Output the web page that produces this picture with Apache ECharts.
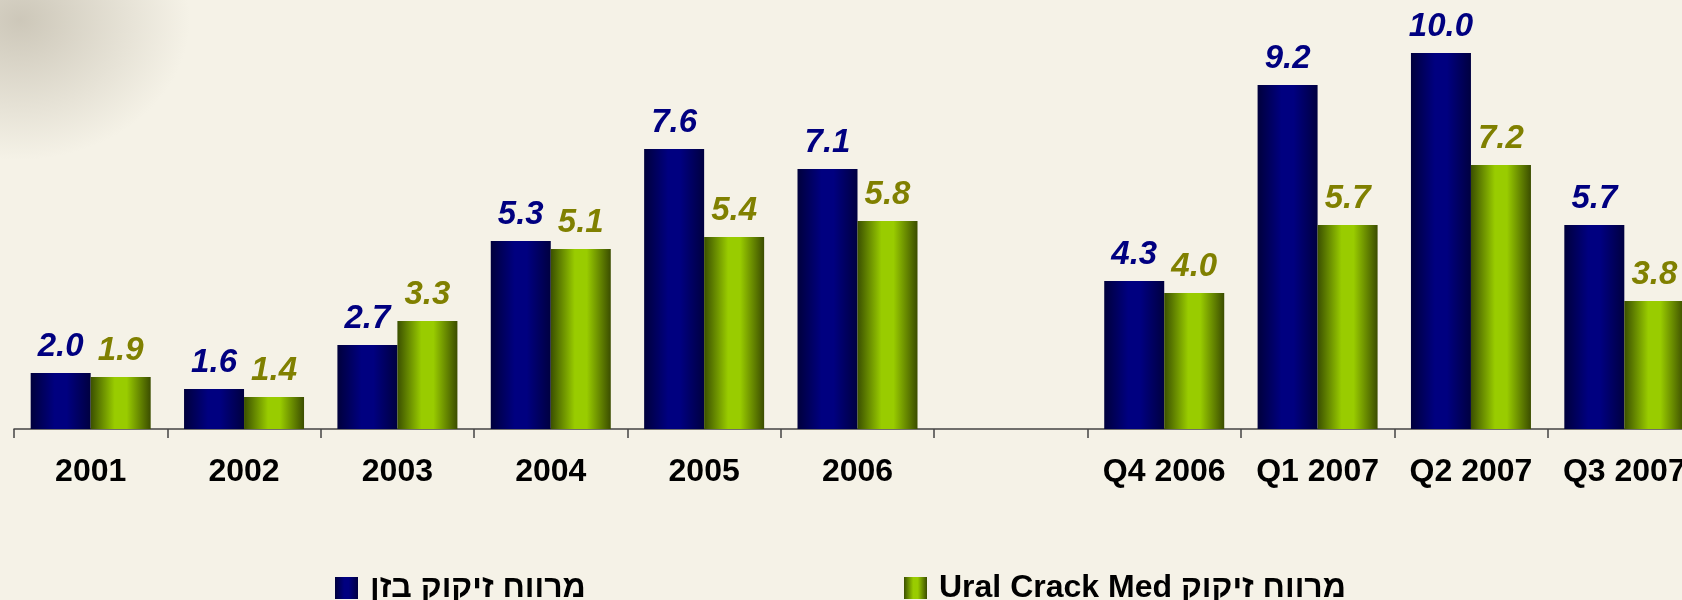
<!DOCTYPE html>
<html>
<head>
<meta charset="utf-8">
<script src="https://cdn.jsdelivr.net/npm/echarts@6/dist/echarts.min.js"></script>
<style>
  html, body { margin: 0; padding: 0; }
  body {
    width: 1682px; height: 600px; overflow: hidden;
    background-color: #f5f2e7;
    background-image: radial-gradient(ellipse 170px 140px at 20px 20px, rgba(165,157,140,0.5), rgba(245,242,231,0) 100%);
  }
  /* the chart is cut off on the right like in the slide */
  #chart { width: 1701px; height: 600px; }
</style>
</head>
<body>
<div id="chart"></div>
<script>
// categories (the empty one is the gap between years and quarters)
const categories = ['2001', '2002', '2003', '2004', '2005', '2006', '', 'Q4 2006', 'Q1 2007', 'Q2 2007', 'Q3 2007'];
const bazanName = 'מרווח זיקוק בזן';
const uralName = '\u202Bמרווח זיקוק Ural Crack Med\u202C';
const bazanValues = [2.0, 1.6, 2.7, 5.3, 7.6, 7.1, null, 4.3, 9.2, 10.0, 5.7];
const uralValues = [1.9, 1.4, 3.3, 5.1, 5.4, 5.8, null, 4.0, 5.7, 7.2, 3.8];

const font = "'Liberation Sans', Arial, sans-serif";

// horizontal shading like the cylinder-ish excel bars
function shade(edgeL, mid, edgeR) {
  return new echarts.graphic.LinearGradient(0, 0, 1, 0, [
    { offset: 0, color: edgeL },
    { offset: 0.4, color: mid },
    { offset: 0.6, color: mid },
    { offset: 1, color: edgeR }
  ]);
}

function labelOf(color) {
  return {
    show: true,
    position: 'top',
    distance: 10,
    color: color,
    fontFamily: font,
    fontSize: 33,
    fontWeight: 'bold',
    fontStyle: 'italic',
    formatter: p => p.value == null ? '' : Number(p.value).toFixed(1)
  };
}

const legendText = {
  color: '#000',
  fontFamily: font,
  fontSize: 32,
  fontWeight: 'bold',
  padding: [0, 0, 0, 7]
};

let option = {
  animation: false,
  backgroundColor: 'transparent',
  legend: [
    { data: [bazanName], left: 330, top: 567, itemWidth: 23, itemHeight: 22, icon: 'rect', textStyle: legendText },
    { data: [uralName], left: 899, top: 567, itemWidth: 23, itemHeight: 22, icon: 'rect', textStyle: legendText }
  ],
  grid: {
    left: 14,
    right: 0,
    top: 53,
    height: 376
  },
  xAxis: {
    type: 'category',
    data: categories,
    axisLine: { lineStyle: { color: '#444', width: 1.5 } },
    axisTick: { show: true, length: 9, lineStyle: { color: '#444', width: 1.5 } },
    axisLabel: {
      interval: 0,
      margin: 27,
      color: '#000',
      fontFamily: font,
      fontSize: 32,
      fontWeight: 'bold'
    }
  },
  yAxis: {
    type: 'value',
    min: 0.6,
    max: 10,
    show: false,
    splitLine: { show: false }
  },
  series: [
    {
      name: bazanName,
      type: 'bar',
      data: bazanValues,
      barWidth: 60,
      barGap: '0%',
      itemStyle: { color: shade('#00003c', '#000080', '#000040') },
      label: labelOf('#000080')
    },
    {
      name: uralName,
      type: 'bar',
      data: uralValues,
      barWidth: 60,
      barGap: '0%',
      itemStyle: { color: shade('#3b5000', '#99cc00', '#3b4d00') },
      label: labelOf('#808000')
    }
  ]
};

let myChart = echarts.init(document.getElementById('chart'));
myChart.setOption(option);
</script>
</body>
</html>
